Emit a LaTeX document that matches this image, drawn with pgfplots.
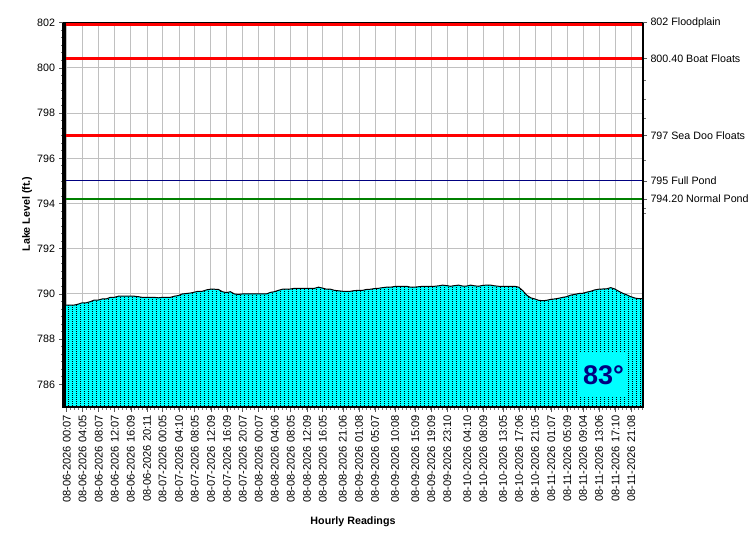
\documentclass[border=0pt]{standalone}
\usepackage{pgfplots}
\pgfplotsset{compat=1.18}
\usepackage{pgfplotstable}
\usetikzlibrary{patterns}
\usepackage{fontspec}
\setmainfont{Liberation Sans}
\definecolor{aqua}{HTML}{00FFFF}
\definecolor{navyc}{HTML}{000080}
\definecolor{greenc}{HTML}{008000}
\definecolor{gridc}{HTML}{C0C0C0}
\pgfdeclarepatternformonly{cdots}{\pgfqpoint{0bp}{0bp}}{\pgfqpoint{1bp}{1bp}}{\pgfqpoint{4bp}{2bp}}{\pgfpathrectangle{\pgfpointorigin}{\pgfqpoint{0.9bp}{0.9bp}}\pgfusepath{fill}}

% first and last rows close the area at the bottom of the axis (785)
\pgfplotstableread{
h v
0 785
0 789.51
1 789.51
2 789.51
3 789.55
4 789.61
5 789.61
6 789.66
7 789.73
8 789.73
9 789.78
10 789.78
11 789.85
12 789.85
13 789.90
14 789.90
15 789.90
16 789.90
17 789.90
18 789.88
19 789.85
20 789.85
21 789.85
22 789.85
23 789.83
24 789.85
25 789.85
26 789.85
27 789.90
28 789.93
29 790.00
30 790.02
31 790.04
32 790.08
33 790.12
34 790.12
35 790.18
36 790.21
37 790.21
38 790.20
39 790.10
40 790.06
41 790.10
42 790.00
43 789.98
44 790.00
45 790.00
46 790.00
47 790.00
48 790.00
49 790.00
50 790.00
51 790.07
52 790.10
53 790.16
54 790.21
55 790.21
56 790.22
57 790.25
58 790.25
59 790.25
60 790.25
61 790.25
62 790.25
63 790.30
64 790.26
65 790.21
66 790.21
67 790.16
68 790.14
69 790.12
70 790.12
71 790.12
72 790.15
73 790.16
74 790.16
75 790.20
76 790.21
77 790.24
78 790.25
79 790.28
80 790.30
81 790.30
82 790.33
83 790.34
84 790.34
85 790.34
86 790.30
87 790.30
88 790.32
89 790.34
90 790.34
91 790.34
92 790.34
93 790.36
94 790.39
95 790.37
96 790.34
97 790.37
98 790.39
99 790.35
100 790.35
101 790.39
102 790.36
103 790.34
104 790.38
105 790.39
106 790.39
107 790.36
108 790.34
109 790.34
110 790.34
111 790.34
112 790.34
113 790.30
114 790.15
115 789.95
116 789.83
117 789.78
118 789.72
119 789.70
120 789.72
121 789.76
122 789.78
123 789.81
124 789.85
125 789.88
126 789.95
127 789.98
128 790.02
129 790.03
130 790.08
131 790.12
132 790.18
133 790.21
134 790.22
135 790.23
136 790.28
137 790.22
138 790.12
139 790.03
140 789.96
141 789.88
142 789.82
143 789.79
144 789.79
144 785
}\lake

\begin{document}
\begin{tikzpicture}
\path[use as bounding box, fill=white] (0,0) rectangle (750bp,550bp);
\begin{axis}[
  name=main,
  at={(64bp,143bp)}, anchor=south west, scale only axis,
  width=579bp, height=384.3bp,
  xmin=-0.56, xmax=144.05, ymin=785, ymax=802,
  xtick={0.117,4.083,8.117,12.117,16.15,20.183,24.083,28.167,32.083,36.15,40.15,44.117,48.117,52.1,56.083,60.15,64.083,69.1,73.133,77.117,82.133,87.15,91.15,95.167,100.167,104.15,109.083,113.1,117.083,121.117,125.15,129.067,133.1,137.167,141.133},
  xticklabels={{08-06-2026 00:07},{08-06-2026 04:05},{08-06-2026 08:07},{08-06-2026 12:07},{08-06-2026 16:09},{08-06-2026 20:11},{08-07-2026 00:05},{08-07-2026 04:10},{08-07-2026 08:05},{08-07-2026 12:09},{08-07-2026 16:09},{08-07-2026 20:07},{08-08-2026 00:07},{08-08-2026 04:06},{08-08-2026 08:05},{08-08-2026 12:09},{08-08-2026 16:05},{08-08-2026 21:06},{08-09-2026 01:08},{08-09-2026 05:07},{08-09-2026 10:08},{08-09-2026 15:09},{08-09-2026 19:09},{08-09-2026 23:10},{08-10-2026 04:10},{08-10-2026 08:09},{08-10-2026 13:05},{08-10-2026 17:06},{08-10-2026 21:05},{08-11-2026 01:07},{08-11-2026 05:09},{08-11-2026 09:04},{08-11-2026 13:06},{08-11-2026 17:10},{08-11-2026 21:08}},
  minor xtick={0,1,...,144},
  ytick={786,788,...,802}, minor y tick num=5,
  tick pos=left, tick align=outside,
  major tick length=4.5bp, minor tick length=2.5bp,
  every tick/.style={black!65, line width=0.8bp},
  every minor tick/.style={black!55, line width=0.8bp},
  xmajorgrids, ymajorgrids, major grid style={gridc, line width=1bp},
  axis line style={black, line width=1bp},
  ticklabel style={font=\fontsize{10.7bp}{12bp}\selectfont},
  xticklabel style={rotate=90, anchor=east, font=\fontsize{11.1bp}{12bp}\selectfont},
  yticklabel style={xshift=-1bp},
  /pgf/number format/assume math mode=true,
]
\addplot[fill=aqua, draw=none] table[x=h,y=v]{\lake};
\addplot[pattern=cdots, pattern color=black, draw=none] table[x=h,y=v]{\lake};
\addplot[black, line width=1bp, restrict y to domain=785.5:803] table[x=h,y=v]{\lake};
\addplot[red, line width=3bp] coordinates {(-0.56,801.93) (144.05,801.93)};
\addplot[red, line width=3bp] coordinates {(-0.56,800.4) (144.05,800.4)};
\addplot[red, line width=3bp] coordinates {(-0.56,797) (144.05,797)};
\addplot[navyc, line width=1.1bp] coordinates {(-0.56,795) (144.05,795)};
\addplot[greenc, line width=1.2bp] coordinates {(-0.56,794.2) (144.05,794.2)};
\end{axis}
\begin{axis}[
  at={(64bp,143bp)}, anchor=south west, scale only axis,
  width=579bp, height=384.3bp,
  xmin=-0.56, xmax=144.05, ymin=785, ymax=802,
  hide x axis, axis y line*=right,
  ytick={794.2,795,797,800.4,802},
  yticklabels={794.20 Normal Pond,795 Full Pond,797 Sea Doo Floats,800.40 Boat Floats,802 Floodplain},
  minor ytick={799.46,798.62,797.77,795.92,793.79,793.57},
  tick align=outside,
  major tick length=4bp, minor tick length=2.5bp,
  every tick/.style={black!65, line width=0.8bp},
  every minor tick/.style={black!55, line width=0.8bp},
  axis line style={black, line width=2bp},
  yticklabel style={anchor=west, font=\fontsize{10.7bp}{12bp}\selectfont},
]
\addplot[draw=none] coordinates {(0,790) (10,791)};
\end{axis}
\draw[black, line width=4bp] (main.south west) -- (main.north west);
\draw[black, line width=2bp] ([xshift=-2bp]main.south west) -- (main.south east);
\node[fill=aqua, minimum width=49bp, minimum height=44bp, inner sep=0pt, text=navyc, font=\bfseries\fontsize{27bp}{30bp}\selectfont] at (603.5bp,175bp) {83°};
\node[rotate=90, font=\bfseries\fontsize{10.7bp}{12bp}\selectfont] at (27bp,336bp) {Lake Level (ft.)};
\node[font=\bfseries\fontsize{10.7bp}{12bp}\selectfont] at (353bp,28bp) {Hourly Readings};
\end{tikzpicture}
\end{document}
